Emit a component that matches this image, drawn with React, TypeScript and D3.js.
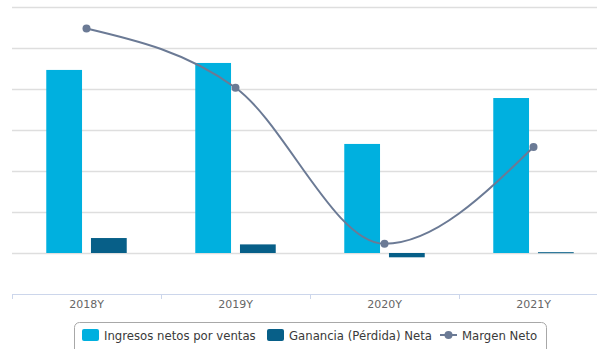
import React from "react";
import * as d3 from "d3";

const categories = ["2018Y", "2019Y", "2020Y", "2021Y"];
const ingresos = [893, 927, 532, 756];
const ganancia = [73, 42, -21, 4];
const margen = [8.8, 5.5, -3.2, 2.2];
const seriesNames = ["Ingresos netos por ventas", "Ganancia (Pérdida) Neta", "Margen Neto"];
const gridTicks = [0, 200, 400, 600, 800, 1000, 1200];

const W = 597;
const H = 349;
const LIGHT = "#00b0df";
const DARK = "#075f88";
const LINE = "#6b7a95";
const FONT = "DejaVu Sans, Verdana, sans-serif";

export default function App() {
  const x = d3.scaleBand<string>().domain(categories).range([12, 608]);
  const bw = x.bandwidth();
  const x1 = d3
    .scaleBand<string>()
    .domain(["a", "b"])
    .range([bw * 0.2, bw * 0.8])
    .paddingInner(0.2)
    .paddingOuter(0.1);
  const y = d3.scaleLinear().domain([-200, 1200]).range([294, 7]);
  const y2 = d3.scaleLinear().domain([-6, 10]).range([294, 7]);
  const cx = (c: string) => (x(c) as number) + bw / 2;
  const line = d3
    .line<number>()
    .x((_, i) => cx(categories[i]))
    .y((d) => y2(d))
    .curve(d3.curveMonotoneX);

  const bar = (v: number) => ({ y: Math.min(y(v), y(0)), h: Math.abs(y(v) - y(0)) });

  return (
    <svg
      width={W}
      height={H}
      style={{ position: "absolute", left: 0, top: 0, background: "#fff" }}
      fontFamily={FONT}
    >
      {gridTicks.map((t) => (
        <line key={t} x1={12} x2={W} y1={Math.round(y(t)) + 0.5} y2={Math.round(y(t)) + 0.5} stroke="#dedede" strokeWidth={1.5} />
      ))}
      {categories.map((c, i) => {
        const b1 = bar(ingresos[i]);
        const b2 = bar(ganancia[i]);
        return (
          <g key={c} transform={`translate(${x(c)},0)`}>
            <rect x={x1("a")} y={b1.y} width={x1.bandwidth()} height={b1.h} fill={LIGHT} />
            <rect x={x1("b")} y={b2.y} width={x1.bandwidth()} height={Math.max(b2.h, 1)} fill={DARK} />
          </g>
        );
      })}
      <line x1={12} x2={W} y1={294.5} y2={294.5} stroke="#ccd6eb" strokeWidth={1} />
      {categories.map((c) => (
        <line key={c} x1={(x(c) as number) + 0.5} x2={(x(c) as number) + 0.5} y1={294} y2={299} stroke="#ccd6eb" />
      ))}
      {categories.map((c) => (
        <text key={c} x={cx(c)} y={308} textAnchor="middle" fontSize={11} fill="#666">
          {c}
        </text>
      ))}
      <path d={line(margen) || ""} fill="none" stroke={LINE} strokeWidth={2} />
      {margen.map((m, i) => (
        <circle key={i} cx={cx(categories[i])} cy={y2(m)} r={4} fill={LINE} />
      ))}
      <rect x={74.5} y={322.5} width={472} height={34} rx={5} fill="none" stroke="#a8a8a8" />
      <rect x={82} y={329} width={17} height={12} rx={2} fill={LIGHT} />
      <text x={104} y={340} fontSize={11.7} fill="#3a3a3a">{seriesNames[0]}</text>
      <rect x={267} y={329} width={17} height={12} rx={2} fill={DARK} />
      <text x={289} y={340} fontSize={11.7} fill="#3a3a3a">{seriesNames[1]}</text>
      <line x1={440} x2={457} y1={335} y2={335} stroke={LINE} strokeWidth={2} />
      <circle cx={448.5} cy={335} r={4} fill={LINE} />
      <text x={462} y={340} fontSize={11.7} fill="#3a3a3a">{seriesNames[2]}</text>
    </svg>
  );
}
